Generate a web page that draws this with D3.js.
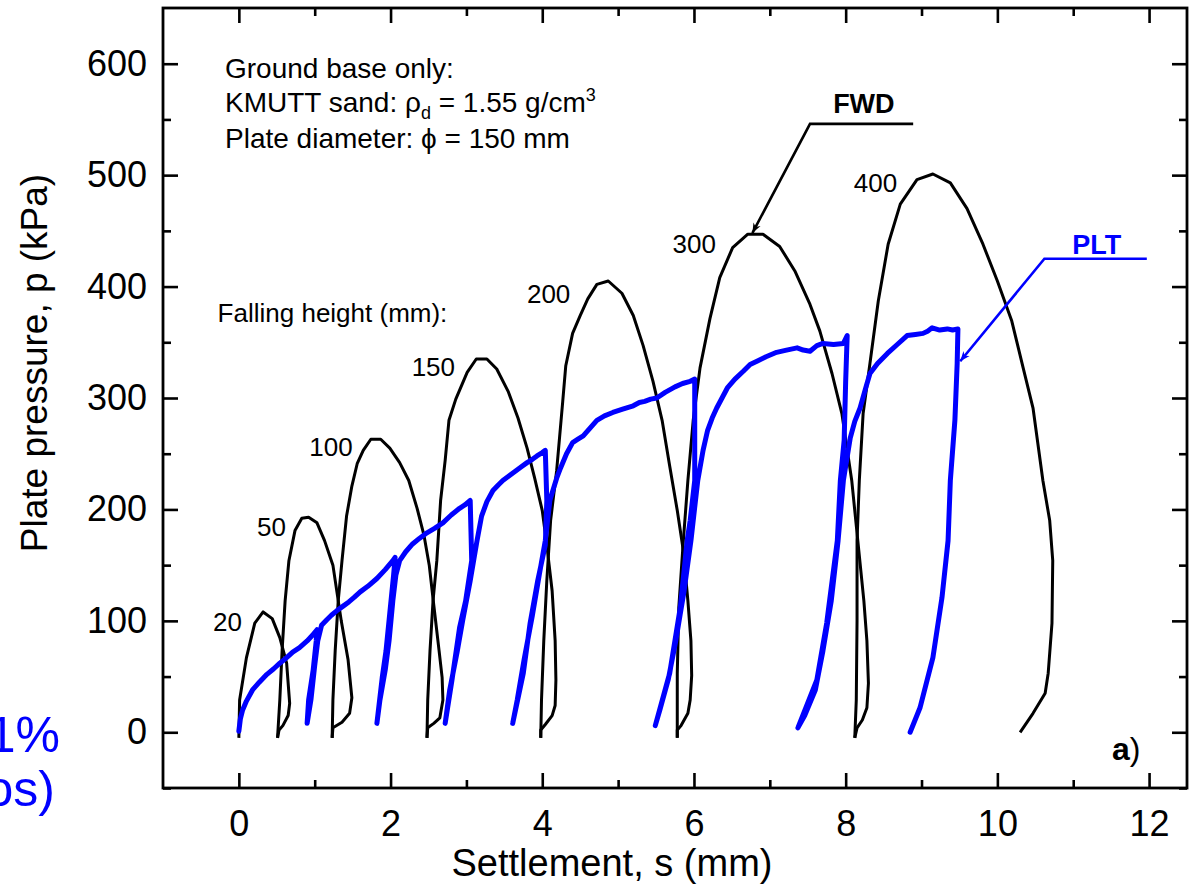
<!DOCTYPE html>
<html>
<head>
<meta charset="utf-8">
<script src="https://cdn.jsdelivr.net/npm/d3@7"></script>
<style>
  body { margin: 0; background: #fff; }
  text { font-family: "Liberation Sans", Arial, Helvetica, sans-serif; }
</style>
</head>
<body>
<svg id="chart" width="1192" height="892"></svg>
<script>
// Falling weight deflectometer loops, one per falling height: [settlement (mm), pressure (kPa)]
const fwd20  = [[0.00,-5],[0.01,29],[0.10,67],[0.21,98],[0.32,108],[0.44,102],[0.54,85],[0.63,62],[0.67,26],[0.65,15],[0.58,6],[0.53,2],[0.51,-5]];
const fwd50  = [[0.51,-5],[0.54,29],[0.57,73],[0.61,118],[0.66,154],[0.74,181],[0.83,192],[0.92,193],[1.03,188],[1.13,172],[1.24,150],[1.35,100],[1.44,65],[1.49,31],[1.46,17],[1.36,9],[1.24,4],[1.23,-5]];
const fwd100 = [[1.23,-5],[1.24,29],[1.27,73],[1.31,118],[1.36,154],[1.42,194],[1.49,221],[1.56,241],[1.64,253],[1.74,263],[1.87,263],[1.99,255],[2.12,242],[2.24,226],[2.35,201],[2.44,177],[2.51,150],[2.57,114],[2.64,73],[2.68,49],[2.69,29],[2.65,13],[2.57,8],[2.49,4],[2.48,-5]];
const fwd150 = [[2.48,-5],[2.49,29],[2.52,73],[2.56,118],[2.61,154],[2.66,208],[2.72,244],[2.77,280],[2.86,299],[3.01,323],[3.13,335],[3.27,335],[3.40,326],[3.55,306],[3.68,282],[3.80,255],[3.90,228],[4.00,199],[4.06,168],[4.13,127],[4.17,82],[4.18,47],[4.17,24],[4.13,15],[4.04,7],[3.98,2],[3.98,-5]];
const fwd200 = [[3.98,-5],[3.99,29],[4.02,82],[4.06,136],[4.11,190],[4.19,235],[4.27,297],[4.31,329],[4.40,358],[4.50,374],[4.60,389],[4.72,402],[4.87,405],[5.05,394],[5.20,374],[5.33,347],[5.46,315],[5.58,280],[5.68,239],[5.78,199],[5.86,163],[5.92,118],[5.96,82],[5.97,51],[5.95,29],[5.92,17],[5.83,6],[5.78,2],[5.78,-5]];
const fwd300 = [[5.78,-5],[5.78,29],[5.78,53],[5.80,112],[5.86,172],[5.92,226],[5.99,280],[6.08,327],[6.21,371],[6.34,408],[6.51,435],[6.71,447],[6.91,447],[7.13,436],[7.33,414],[7.53,384],[7.66,360],[7.82,322],[7.95,286],[8.08,226],[8.16,172],[8.24,118],[8.28,82],[8.30,44],[8.28,22],[8.22,11],[8.15,4],[8.12,-5]];
const fwd400 = [[8.12,-5],[8.14,29],[8.15,100],[8.15,172],[8.18,226],[8.23,286],[8.32,331],[8.43,387],[8.56,438],[8.72,474],[8.94,496],[9.15,501],[9.38,493],[9.60,470],[9.81,438],[10.00,405],[10.19,369],[10.34,327],[10.47,291],[10.60,226],[10.69,190],[10.73,154],[10.72,98],[10.67,53],[10.63,35],[10.47,17],[10.30,0]];

// Falling heights (mm) that label each loop
const fallingHeights = ["20", "50", "100", "150", "200", "300", "400"];
// Label anchor for each loop, in data units (right end of the text, baseline)
const heightLabelAt = [[0.04,91],[0.62,176],[1.50,248],[2.85,320],[4.37,385],[6.29,430],[8.68,485]];

// Static plate load test: virgin loading with unload / reload cycles
const pltCurve = [
  [0.00,1],[0.02,12],[0.05,20],[0.10,28],[0.18,38],[0.27,45],[0.37,52],[0.46,57],[0.54,62],[0.63,67],[0.71,72],[0.80,76],[0.90,82],[0.97,87],[1.03,92],
  [1.02,82],[0.98,56],[0.92,29],[0.90,8],
  [0.95,29],[1.00,60],[1.04,82],[1.09,96],[1.16,101],[1.22,105],[1.29,109],[1.37,113],[1.45,117],[1.52,121],[1.60,126],[1.70,131],[1.82,138],[1.93,146],[2.03,154],[2.06,157],
  [2.04,141],[1.99,107],[1.94,73],[1.89,49],[1.82,8],
  [1.86,29],[1.93,56],[1.98,82],[2.03,118],[2.07,141],[2.12,154],[2.20,162],[2.29,169],[2.38,174],[2.48,179],[2.58,183],[2.69,188],[2.80,195],[2.91,201],[2.98,204],[3.05,208],
  [3.06,181],[3.07,154],[2.99,118],[2.91,94],[2.81,47],[2.72,8],
  [2.78,38],[2.88,73],[2.95,100],[3.05,136],[3.14,172],[3.20,194],[3.27,207],[3.35,217],[3.42,222],[3.48,226],[3.56,230],[3.64,234],[3.72,238],[3.80,242],[3.87,245],[3.93,248],[4.00,251],[4.04,253],
  [4.06,208],[4.04,168],[3.94,136],[3.84,98],[3.75,53],[3.61,8],
  [3.67,29],[3.76,65],[3.87,105],[3.96,141],[4.04,172],[4.10,208],[4.14,217],[4.19,228],[4.24,237],[4.32,250],[4.40,260],[4.47,263],[4.54,266],[4.63,273],[4.72,280],[4.82,284],[4.93,287],[5.06,290],[5.20,293],[5.28,296],[5.35,297],[5.43,299],[5.51,300],[5.62,305],[5.75,310],[5.85,313],[5.95,315],[6.01,317],
  [6.01,280],[6.01,226],[5.95,190],[5.91,172],[5.82,112],[5.68,53],[5.49,6],
  [5.55,20],[5.66,47],[5.76,82],[5.87,127],[5.96,172],[6.05,226],[6.12,253],[6.18,271],[6.24,282],[6.30,291],[6.37,300],[6.44,309],[6.54,317],[6.65,324],[6.74,330],[6.83,333],[6.95,337],[7.09,341],[7.22,343],[7.36,345],[7.44,343],[7.53,342],[7.62,347],[7.70,349],[7.84,348],[7.97,349],[8.02,356],
  [8.00,315],[7.98,262],[7.93,226],[7.89,172],[7.75,98],[7.62,47],[7.37,4],
  [7.46,15],[7.60,38],[7.70,73],[7.81,118],[7.90,172],[7.97,226],[8.06,264],[8.12,279],[8.19,291],[8.26,308],[8.32,322],[8.42,331],[8.55,340],[8.68,348],[8.81,356],[8.92,357],[9.02,358],[9.08,360],[9.14,363],[9.24,361],[9.34,362],[9.41,361],[9.48,362],
  [9.47,331],[9.44,280],[9.38,226],[9.35,172],[9.27,121],[9.15,67],[8.98,22],[8.85,0]
];

// Axis ticks
const xMajorTicks = [0, 2, 4, 6, 8, 10, 12];
const xMinorTicks = [1, 3, 5, 7, 9, 11];
const yMajorTicks = [0, 100, 200, 300, 400, 500, 600];
const yMinorTicks = [-50, 50, 150, 250, 350, 450, 550];

const svg = d3.select("#chart");
const plot = { left: 163, top: 8, right: 1187, bottom: 788 };
const x = d3.scaleLinear().domain([-1, 12.5]).range([plot.left, plot.right]);
const y = d3.scaleLinear().domain([-50, 650]).range([plot.bottom, plot.top]);
const BLUE = "#0000ff";

const line = d3.line().x(d => x(d[0])).y(d => y(d[1]));

// Arrow heads
const defs = svg.append("defs");
[["arrowBlack", "#000"], ["arrowBlue", BLUE]].forEach(([id, c]) => {
  defs.append("marker").attr("id", id).attr("viewBox", "0 0 10 10")
    .attr("refX", 10).attr("refY", 5).attr("markerWidth", 14).attr("markerHeight", 10)
    .attr("markerUnits", "userSpaceOnUse").attr("orient", "auto")
    .append("path").attr("d", "M0,1 L10,5 L0,9 L3,5 Z").attr("fill", c);
});

// Curves
const fwdLoops = [fwd20, fwd50, fwd100, fwd150, fwd200, fwd300, fwd400];
svg.append("g").selectAll("path").data(fwdLoops).join("path")
  .attr("d", line).attr("fill", "none").attr("stroke", "#000")
  .attr("stroke-width", 3).attr("stroke-linejoin", "round");

svg.append("path").datum(pltCurve).attr("d", line)
  .attr("fill", "none").attr("stroke", BLUE).attr("stroke-width", 5)
  .attr("stroke-linejoin", "round").attr("stroke-linecap", "round");

// Axes (ticks point inward on all four sides)
function styleAxis(g) {
  g.select(".domain").remove();
  g.selectAll(".tick line").attr("stroke", "#000").attr("stroke-width", 2.6);
  g.selectAll(".tick text").attr("fill", "#000").attr("font-size", 36)
    .attr("font-family", "Liberation Sans, Arial, sans-serif");
}
svg.append("g").attr("transform", `translate(0,${plot.bottom})`)
  .call(d3.axisBottom(x).tickValues(xMajorTicks).tickSize(-15).tickPadding(22).tickFormat(d3.format("d")))
  .call(styleAxis);
svg.append("g").attr("transform", `translate(0,${plot.bottom})`)
  .call(d3.axisBottom(x).tickValues(xMinorTicks).tickSize(-8).tickFormat(""))
  .call(styleAxis);
svg.append("g").attr("transform", `translate(0,${plot.top})`)
  .call(d3.axisTop(x).tickValues(xMajorTicks).tickSize(-15).tickFormat(""))
  .call(styleAxis);
svg.append("g").attr("transform", `translate(0,${plot.top})`)
  .call(d3.axisTop(x).tickValues(xMinorTicks).tickSize(-8).tickFormat(""))
  .call(styleAxis);
svg.append("g").attr("transform", `translate(${plot.left},0)`)
  .call(d3.axisLeft(y).tickValues(yMajorTicks).tickSize(-15).tickPadding(16).tickFormat(d3.format("d")))
  .call(styleAxis);
svg.append("g").attr("transform", `translate(${plot.left},0)`)
  .call(d3.axisLeft(y).tickValues(yMinorTicks).tickSize(-8).tickFormat(""))
  .call(styleAxis);
svg.append("g").attr("transform", `translate(${plot.right},0)`)
  .call(d3.axisRight(y).tickValues(yMajorTicks).tickSize(-15).tickFormat(""))
  .call(styleAxis);
svg.append("g").attr("transform", `translate(${plot.right},0)`)
  .call(d3.axisRight(y).tickValues(yMinorTicks).tickSize(-8).tickFormat(""))
  .call(styleAxis);

// Frame
svg.append("rect").attr("x", plot.left).attr("y", plot.top)
  .attr("width", plot.right - plot.left).attr("height", plot.bottom - plot.top)
  .attr("fill", "none").attr("stroke", "#000").attr("stroke-width", 2.8);

// Axis titles
svg.append("text").attr("x", 612).attr("y", 876).attr("text-anchor", "middle")
  .attr("font-size", 38).text("Settlement, s (mm)");
svg.append("text").attr("transform", "translate(47,363) rotate(-90)").attr("text-anchor", "middle")
  .attr("font-size", 37).text("Plate pressure, p (kPa)");

// Falling height labels
svg.append("g").selectAll("text").data(fallingHeights).join("text")
  .attr("x", (d, i) => x(heightLabelAt[i][0])).attr("y", (d, i) => y(heightLabelAt[i][1]))
  .attr("text-anchor", "end").attr("font-size", 26).text(d => d);
svg.append("text").attr("x", x(-0.28)).attr("y", y(368)).attr("font-size", 26)
  .text("Falling height (mm):");

// Test description
const info = svg.append("g").attr("font-size", 28);
info.append("text").attr("x", 225).attr("y", 78).text("Ground base only:");
const sand = info.append("text").attr("x", 225).attr("y", 112);
sand.append("tspan").text("KMUTT sand: \u03c1");
sand.append("tspan").attr("font-size", 18).attr("dy", 7).text("d");
sand.append("tspan").attr("dy", -7).text(" = 1.55 g/cm");
sand.append("tspan").attr("font-size", 18).attr("dy", -11).text("3");
info.append("text").attr("x", 225).attr("y", 148).text("Plate diameter: \u03d5 = 150 mm");

// FWD leader
svg.append("path")
  .attr("d", line([[8.89, 546], [7.53, 546], [6.77, 448]]))
  .attr("fill", "none").attr("stroke", "#000").attr("stroke-width", 2.6)
  .attr("marker-end", "url(#arrowBlack)");
svg.append("text").attr("x", x(8.24)).attr("y", y(556)).attr("text-anchor", "middle")
  .attr("font-size", 27).attr("font-weight", "bold").text("FWD");

// PLT leader
svg.append("path")
  .attr("d", line([[11.97, 425], [10.62, 425], [9.51, 333]]))
  .attr("fill", "none").attr("stroke", BLUE).attr("stroke-width", 2.6)
  .attr("marker-end", "url(#arrowBlue)");
svg.append("text").attr("x", x(11.31)).attr("y", y(429)).attr("text-anchor", "middle")
  .attr("font-size", 27).attr("font-weight", "bold").attr("fill", BLUE).text("PLT");

// Panel tag
const tag = svg.append("text").attr("x", 1112).attr("y", 760).attr("font-size", 32);
tag.append("tspan").attr("font-weight", "bold").text("a");
tag.append("tspan").text(")");

// Neighbouring text at the left edge
svg.append("text").attr("x", 60).attr("y", 752).attr("text-anchor", "end")
  .attr("font-size", 50).attr("fill", BLUE).text("1%");
svg.append("text").attr("x", 55).attr("y", 806).attr("text-anchor", "end")
  .attr("font-size", 50).attr("fill", BLUE).text("os)");
</script>
</body>
</html>
